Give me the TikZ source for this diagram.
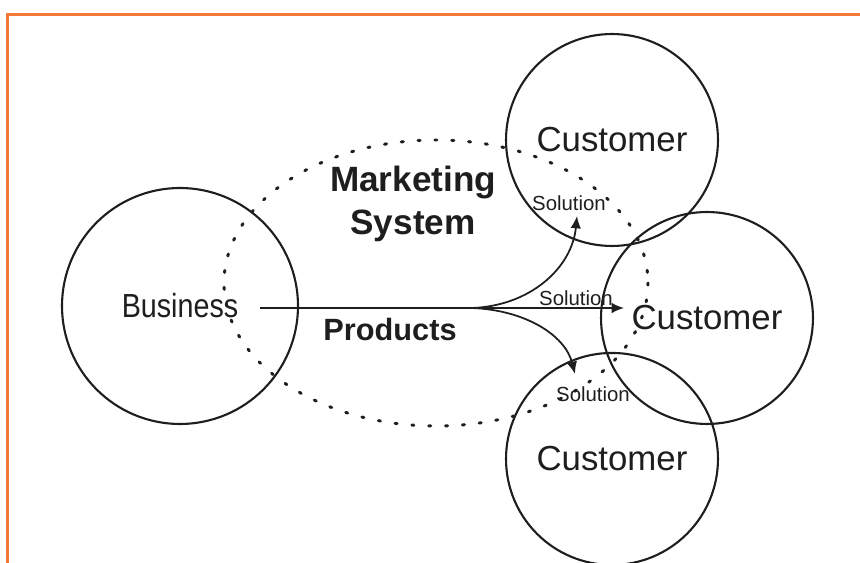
\documentclass[tikz,border=0pt]{standalone}
\usepackage{fontspec}
\setmainfont{Liberation Sans}
\usepackage{tikz}
\usetikzlibrary{shapes,arrows.meta}
\definecolor{framecol}{RGB}{243,121,52}
\definecolor{inkcol}{RGB}{30,30,30}
\tikzstyle{partyblock} = [circle, draw=inkcol, line width=1.2pt, text=inkcol, inner sep=0pt]
\tikzstyle{custblock} = [partyblock, minimum size=4.24cm, font=\fontsize{19.8}{24}\selectfont]
\tikzstyle{boldlabel} = [text=inkcol, align=center]
\tikzstyle{sollabel} = [text=inkcol, inner sep=0pt, font=\fontsize{11.6}{14}\selectfont]
\tikzstyle{flow} = [line width=1pt, draw=inkcol, -{Latex[length=7pt,width=6pt]}]

\begin{document}
\begin{tikzpicture}[x=0.02cm, y=-0.02cm]
    \useasboundingbox (0,0) rectangle (860,563);
    % orange frame, open to the right and bottom
    \draw [framecol, line width=1.2pt] (7.5,563) -- (7.5,14.5) -- (860,14.5);
    % dotted boundary of the marketing system
    \draw [inkcol, line width=1.7pt, line cap=round, dash pattern=on 1.2pt off 8.4pt] (436,283) ellipse [x radius=212, y radius=143];

    \node [partyblock, minimum size=4.72cm, font=\fontsize{19}{23}\selectfont] (business) at (180,306) {\scalebox{0.86}[1]{Business}};
    \node [custblock] (custtop) at (612,140) {Customer};
    \node [custblock, below of=custtop, node distance=6.38cm] (custlow) {Customer};
    \node [custblock] (custmid) at (707,318) {Customer};

    \node [boldlabel, font=\fontsize{20}{24.4}\selectfont\bfseries] (mktsys) at (413,204) {Marketing\\System};
    \node [boldlabel, font=\fontsize{17.5}{21}\selectfont\bfseries] (products) at (390,330) {Products};

    \coordinate (prodstart) at (260,308);
    \coordinate (fork) at (472,308);
    \coordinate (tiptop) at (577,216);
    \coordinate (tipmid) at (624,308);
    \coordinate (tiplow) at (575,374);

    % Draw edges
    \draw [line width=1pt, inkcol] (prodstart) -- (fork);
    \draw [flow] (fork) -- (tipmid);
    \draw [flow] (fork) .. controls (530,306) and (572,268) .. (tiptop);
    \draw [flow] (fork) .. controls (525,310) and (565,335) .. (tiplow);

    \node [sollabel] (soltop) at (569,203) {Solution};
    \node [sollabel] (solmid) at (576,298) {Solution};
    \node [sollabel] (sollow) at (593,394) {Solution};
\end{tikzpicture}
\end{document}
